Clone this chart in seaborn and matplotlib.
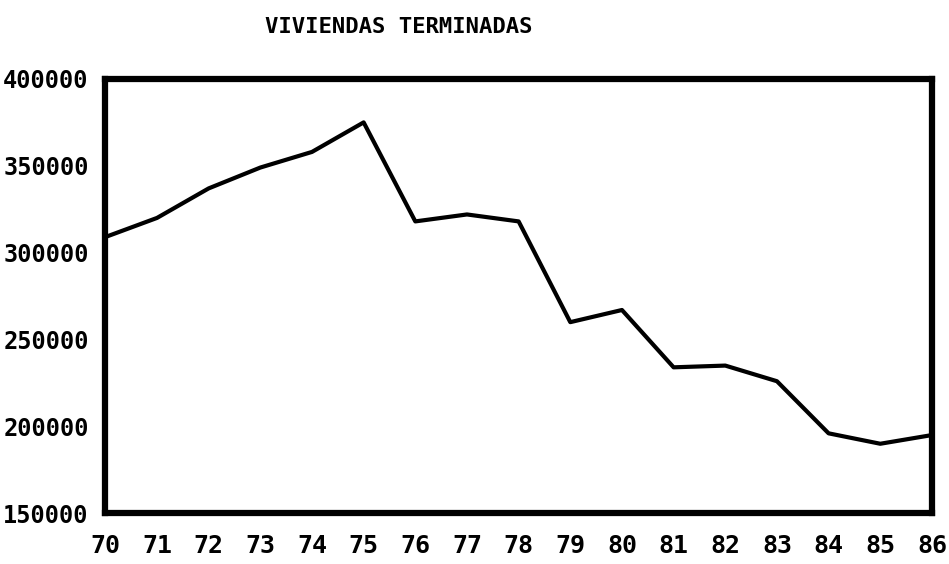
import matplotlib
matplotlib.use("Agg")
import matplotlib.pyplot as plt
import seaborn as sns
import pandas as pd

years = [70, 71, 72, 73, 74, 75, 76, 77, 78, 79, 80, 81, 82, 83, 84, 85, 86]
viviendas = [309000, 320000, 337000, 349000, 358000, 375000, 318000, 322000, 318000,
             260000, 267000, 234000, 235000, 226000, 196000, 190000, 195000]
x_ticks = list(range(70, 87))
y_ticks = [150000, 200000, 250000, 300000, 350000, 400000]
title = "VIVIENDAS TERMINADAS"

df = pd.DataFrame({"year": years, "value": viviendas})

sns.set_style("white")
plt.rcParams["font.family"] = ["DejaVu Sans Mono", "DejaVu Sans"]
plt.rcParams["text.color"] = "black"
plt.rcParams["xtick.color"] = "black"
plt.rcParams["ytick.color"] = "black"

fig = plt.figure(figsize=(9.49, 5.64), dpi=100)
ax = fig.add_axes([0.111, 0.09, 0.871, 0.77])

sns.lineplot(data=df, x="year", y="value", ax=ax, color="black", linewidth=3)

ax.set_xlim(70, 86)
ax.set_ylim(150000, 400000)
ax.set_xticks(x_ticks)
ax.set_xticklabels([str(t) for t in x_ticks])
ax.set_yticks(y_ticks)
ax.set_yticklabels([str(t) for t in y_ticks])
ax.set_xlabel("")
ax.set_ylabel("")

for s in ax.spines.values():
    s.set_visible(True)
    s.set_linewidth(4.5)
    s.set_color("black")

ax.tick_params(axis="both", direction="out", length=6, width=2, color="black",
               labelcolor="black")
ax.tick_params(axis="y", labelsize=17, pad=6)
ax.tick_params(axis="x", labelsize=18, pad=9)
for lab in ax.get_xticklabels() + ax.get_yticklabels():
    lab.set_fontweight("bold")

fig.text(0.42, 0.953, title, ha="center", va="center", fontsize=16,
         fontweight="bold", color="black",
         family=["DejaVu Sans Mono", "DejaVu Sans"])

fig.savefig("out.png", dpi=100, facecolor="white")
